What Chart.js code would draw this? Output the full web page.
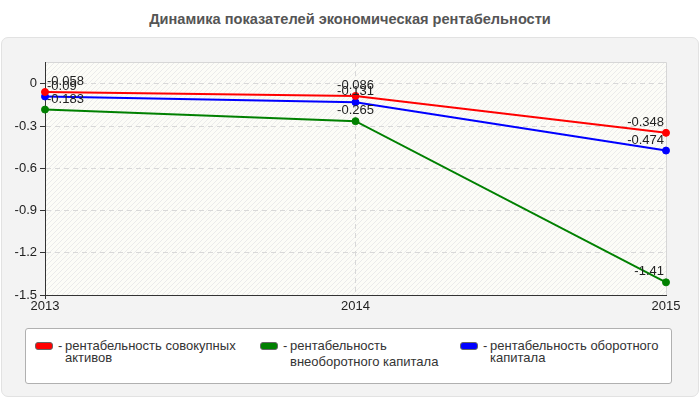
<!DOCTYPE html>
<html>
<head>
<meta charset="utf-8">
<script src="https://cdn.jsdelivr.net/npm/chart.js@4"></script>
<style>
  body { margin: 0; background: #fff; font-family: "Liberation Sans", Arial, sans-serif; }
  #wrap { position: relative; width: 700px; height: 400px; overflow: hidden; }
  #title { position: absolute; left: 0; top: 11px; width: 700px; text-align: center;
           font-weight: bold; font-size: 14.6px; color: #555; }
  #panel { position: absolute; left: 1px; top: 37px; width: 696px; height: 358px;
           background: #f3f3f3; border: 1px solid #e2e2e2; border-radius: 7px; }
  #chart { position: absolute; left: 0; top: 0; }
  #legend { position: absolute; left: 25px; top: 328px; width: 645px; height: 54px;
            background: #fff; border: 1px solid #b0b0b0; border-radius: 3px; }
  .item { position: absolute; top: 11px; font-size: 13px; color: #333; line-height: 12px; white-space: nowrap; }
  .sw { position: absolute; top: 2px; width: 16px; height: 6px; border-radius: 3px; border: 1px solid #666; }
  .txt { position: absolute; left: 30px; top: 0; }
  .dash { position: absolute; left: 23px; top: 0; }
</style>
</head>
<body>
<div id="wrap">
  <div id="title">Динамика показателей экономическая рентабельности</div>
  <div id="panel"></div>
  <canvas id="chart" width="700" height="400"></canvas>
  <div id="legend"></div>
</div>
<script>
var years = ["2013", "2014", "2015"];
var seriesNames = ["рентабельность совокупных активов", "рентабельность внеоборотного капитала", "рентабельность оборотного капитала"];
var totalAssets = [-0.058, -0.086, -0.348];
var fixedCapital = [-0.183, -0.265, -1.41];
var workingCapital = [-0.09, -0.131, -0.474];
var seriesColors = ["#ff0000", "#008000", "#0000ff"];
var yTicks = [0, -0.3, -0.6, -0.9, -1.2, -1.5];

// legend drawn in html, wrapped like the original
var legendX = [9, 234, 434];
var legendBreak = [2, 1, 2];   // words on the first line
var legendGap = [0, 4, 0];
var legendDiv = document.getElementById("legend");
seriesNames.forEach(function(name, i) {
  var words = name.split(" ");
  var l1 = words.slice(0, legendBreak[i]).join(" ");
  var l2 = words.slice(legendBreak[i]).join(" ");
  var it = document.createElement("div");
  it.className = "item";
  it.style.left = legendX[i] + "px";
  it.innerHTML = '<span class="sw" style="background:' + seriesColors[i] + '"></span>' +
    '<span class="dash">-</span><span class="txt">' +
    l1 + '<br><span style="display:inline-block;margin-top:' + legendGap[i] + 'px">' + l2 + '</span></span>';
  legendDiv.appendChild(it);
});

const plotBg = {
  id: "plotBg",
  beforeDraw(chart) {
    const ctx = chart.ctx, a = chart.chartArea;
    ctx.save();
    ctx.fillStyle = "#fcfcf7";
    ctx.fillRect(a.left, a.top, a.right - a.left, a.bottom - a.top);
    ctx.beginPath();
    ctx.rect(a.left, a.top, a.right - a.left, a.bottom - a.top);
    ctx.clip();
    ctx.strokeStyle = "#ebebeb";
    ctx.lineWidth = 1;
    for (let x = a.left - (a.bottom - a.top); x < a.right; x += 5) {
      ctx.beginPath();
      ctx.moveTo(x, a.bottom);
      ctx.lineTo(x + (a.bottom - a.top), a.top);
      ctx.stroke();
    }
    ctx.restore();
    ctx.save();
    ctx.strokeStyle = "#d6d6d6";
    ctx.beginPath();
    ctx.moveTo(a.left, a.top + 0.5);
    ctx.lineTo(a.right + 0.5, a.top + 0.5);
    ctx.lineTo(a.right + 0.5, a.bottom);
    ctx.stroke();
    ctx.restore();
  }
};

const valueLabels = {
  id: "valueLabels",
  afterDatasetsDraw(chart) {
    const ctx = chart.ctx, a = chart.chartArea;
    ctx.save();
    ctx.font = "13px 'Liberation Sans', Arial";
    ctx.fillStyle = "#222";
    ctx.textBaseline = "bottom";
    chart.data.datasets.forEach(function(ds, i) {
      chart.getDatasetMeta(i).data.forEach(function(pt, j) {
        const s = String(ds.data[j]);
        const w = ctx.measureText(s).width;
        let x = pt.x - w / 2;
        if (x < a.left + 2) x = a.left + 2;
        if (x + w > a.right - 2) x = a.right - 2 - w;
        ctx.textAlign = "left";
        ctx.fillText(s, x, pt.y - 4);
      });
    });
    ctx.restore();
  }
};

new Chart("chart", {
  type: "line",
  data: {
    labels: years,
    datasets: [
      {label: seriesNames[0], data: totalAssets, borderColor: seriesColors[0], backgroundColor: seriesColors[0]},
      {label: seriesNames[1], data: fixedCapital, borderColor: seriesColors[1], backgroundColor: seriesColors[1]},
      {label: seriesNames[2], data: workingCapital, borderColor: seriesColors[2], backgroundColor: seriesColors[2]}
    ].map(function(d) {
      return Object.assign(d, {borderWidth: 2, pointRadius: 3.5, pointBorderWidth: 1, tension: 0, fill: false});
    })
  },
  options: {
    responsive: false,
    animation: false,
    layout: {padding: {left: 0, right: 34, top: 62, bottom: 85}},
    plugins: {legend: {display: false}, tooltip: {enabled: false}, title: {display: false}},
    scales: {
      x: {
        offset: false,
        afterFit: function(s) { s.height = 20; },
        grid: {
          color: function(c) { return c.index === 1 ? "#d8d8d8" : "rgba(0,0,0,0)"; },
          drawTicks: true, tickLength: 4,
          tickColor: function(c) { return c.index === 0 ? "#333" : "rgba(0,0,0,0)"; }
        },
        border: {color: "#333", width: 1, dash: [5, 4]},
        ticks: {color: "#222", font: {family: "'Liberation Sans', Arial", size: 13}, padding: 0, maxRotation: 0}
      },
      y: {
        min: -1.5, max: 0.155,
        afterFit: function(s) { s.width = 45; },
        afterBuildTicks: function(s) { s.ticks = yTicks.map(function(v) { return {value: v}; }); },
        grid: {color: "#d8d8d8", tickColor: "#333", tickLength: 5, tickBorderDash: [], drawTicks: true},
        border: {color: "#333", width: 1, dash: [5, 4]},
        ticks: {color: "#222", font: {family: "'Liberation Sans', Arial", size: 13}, padding: 3,
                callback: function(v) { return String(Math.round(v * 10) / 10); }}
      }
    }
  },
  plugins: [plotBg, valueLabels]
});
</script>
</body>
</html>
